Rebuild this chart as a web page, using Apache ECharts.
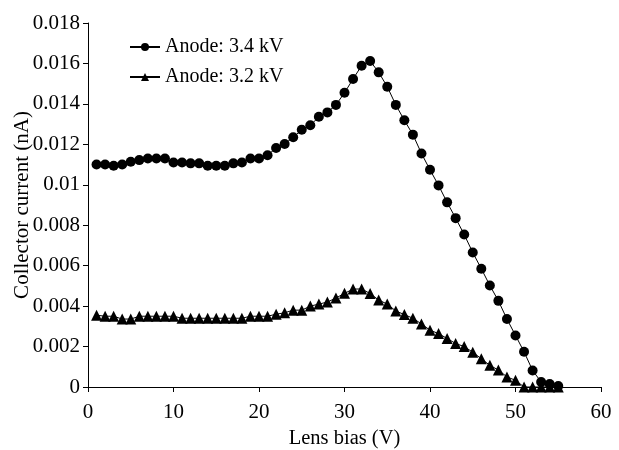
<!DOCTYPE html>
<html>
<head>
<meta charset="utf-8">
<script src="https://cdn.jsdelivr.net/npm/echarts@6/dist/echarts.min.js"></script>
<style>
html,body{margin:0;padding:0;background:#fff;}
#chart{width:619px;height:450px;}
</style>
</head>
<body>
<div id="chart"></div>
<script>
const lensBias = [1,2,3,4,5,6,7,8,9,10,11,12,13,14,15,16,17,18,19,20,21,22,23,24,25,26,27,28,29,30,31,32,33,34,35,36,37,38,39,40,41,42,43,44,45,46,47,48,49,50,51,52,53,54,55];
const anode34 = [0.0110,0.0110,0.01094,0.0110,0.01114,0.01122,0.0113,0.0113,0.0113,0.0111,0.0111,0.01106,0.01106,0.01094,0.01094,0.01094,0.01106,0.0111,0.0113,0.0113,0.01146,0.01182,0.01202,0.01235,0.01272,0.01294,0.01336,0.01358,0.01395,0.01455,0.01523,0.01589,0.01612,0.01556,0.01485,0.01395,0.01319,0.01248,0.01155,0.01074,0.00997,0.00913,0.00835,0.00754,0.00665,0.00585,0.00502,0.00426,0.00336,0.00255,0.00174,0.00082,0.00025,0.00015,0.00005];
const anode32 = [0.00355,0.0035,0.0035,0.00336,0.00336,0.0035,0.0035,0.0035,0.0035,0.0035,0.0034,0.0034,0.0034,0.0034,0.0034,0.0034,0.0034,0.0034,0.0035,0.0035,0.0035,0.0036,0.00367,0.0038,0.0038,0.004,0.0041,0.0042,0.0044,0.00463,0.00484,0.00485,0.00462,0.0043,0.0041,0.00376,0.00358,0.0034,0.00312,0.00281,0.00264,0.0024,0.00215,0.002,0.00172,0.0014,0.00107,0.00084,0.0005,0.00033,0,0,0,0,0];
const seriesNames = ['Anode: 3.4 kV','Anode: 3.2 kV'];
const xLabel = 'Lens bias (V)';
const yLabel = 'Collector current (nA)';

const font = 'Liberation Serif';
const chart = echarts.init(document.getElementById('chart'), null, {renderer:'canvas'});
const pair = (xs, ys) => xs.map((x,i)=>[x, ys[i]]);
chart.setOption({
  animation:false,
  backgroundColor:'#fff',
  grid:{left:88,right:18,top:23,bottom:63,containLabel:false,outerBoundsMode:'none'},
  legend:{
    orient:'vertical', left:124, top:32, itemWidth:30, itemHeight:10, itemGap:10,
    textStyle:{fontFamily:font,fontSize:20,color:'#000'},
    data:seriesNames
  },
  xAxis:{
    type:'value', min:0, max:60, interval:10,
    name:xLabel, nameLocation:'middle', nameGap:41, nameMoveOverlap:false,
    nameTextStyle:{fontFamily:font,fontSize:20.5,color:'#000'},
    axisLine:{lineStyle:{color:'#000',width:1}},
    axisTick:{show:true,inside:false,length:5,lineStyle:{color:'#000'}},
    axisLabel:{fontFamily:font,fontSize:21,color:'#000',margin:15},
    splitLine:{show:false}
  },
  yAxis:{
    type:'value', min:0, max:0.018, interval:0.002,
    name:yLabel, nameLocation:'middle', nameGap:55, nameRotate:90, nameMoveOverlap:false,
    nameTextStyle:{fontFamily:font,fontSize:21,color:'#000'},
    axisLine:{show:true,lineStyle:{color:'#000',width:1}},
    axisTick:{show:true,inside:false,length:5,lineStyle:{color:'#000'}},
    axisLabel:{fontFamily:font,fontSize:21,color:'#000',margin:8},
    splitLine:{show:false}
  },
  series:[
    {name:seriesNames[0],type:'line',data:pair(lensBias,anode34),symbol:'circle',symbolSize:10,
     itemStyle:{color:'#000'},lineStyle:{color:'#000',width:1}},
    {name:seriesNames[1],type:'line',data:pair(lensBias,anode32),symbol:'triangle',symbolSize:11,
     itemStyle:{color:'#000'},lineStyle:{color:'#000',width:1}}
  ]
});
</script>
</body>
</html>
